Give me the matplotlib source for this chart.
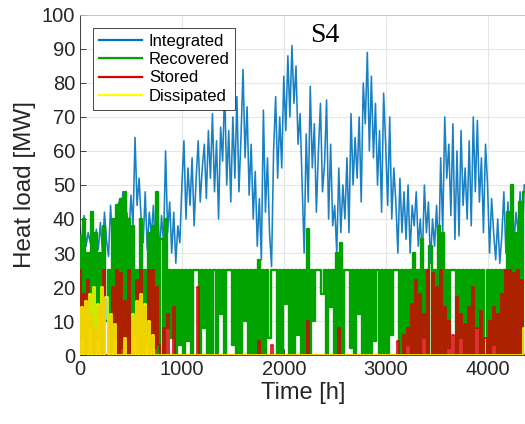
import numpy as np
import matplotlib
matplotlib.use("Agg")
from matplotlib import pyplot as plt

plt.rcParams['font.family'] = ['Liberation Sans', 'DejaVu Sans']

# hourly results sampled every 20 h (first half year)
hours = np.arange(0, 4380, 20)

integrated = [
    38, 30, 41, 32, 36, 33, 40, 29, 37, 31,
    39, 30, 42, 34, 29, 44, 33, 40, 30, 45,
    36, 48, 33, 42, 35, 47, 38, 64, 44, 52,
    40, 33, 48, 31, 42, 35, 44, 30, 48, 29,
    41, 33, 60, 36, 45, 30, 42, 27, 38, 33,
    50, 63, 40, 55, 44, 58, 38, 52, 63, 45,
    55, 62, 46, 66, 52, 71, 48, 63, 40, 67,
    57, 79, 50, 66, 45, 70, 52, 76, 48, 64,
    84, 58, 73, 47, 62, 40, 54, 32, 46, 28,
    72, 42, 58, 36, 26, 60, 76, 52, 70, 55,
    82, 66, 88, 70, 91, 74, 85, 62, 71, 50,
    30, 65, 45, 79, 55, 68, 42, 60, 74, 48,
    56, 75, 40, 62, 38, 44, 30, 55, 36, 50,
    40, 58, 36, 71, 50, 64, 52, 70, 45, 80,
    68, 89, 60, 82, 58, 74, 50, 66, 42, 77,
    62, 44, 70, 40, 55, 45, 30, 52, 36, 48,
    34, 50, 30, 44, 38, 48, 32, 40, 28, 50,
    36, 45, 27, 40, 32, 44, 28, 58, 36, 70,
    52, 62, 41, 68, 34, 60, 35, 66, 44, 55,
    40, 63, 38, 70, 48, 69, 45, 58, 36, 62,
    50, 30, 46, 36, 28, 40, 27, 35, 48, 30,
    45, 30, 50, 33, 42, 36, 48, 32, 50,
]

recovered = [
    35, 5, 40, 0, 30, 8, 42, 0, 36, 4,
    30, 0, 38, 10, 25, 0, 40, 5, 44, 0,
    46, 2, 48, 0, 40, 0, 38, 6, 25, 0,
    40, 0, 25, 3, 36, 0, 38, 2, 48, 0,
    34, 0, 40, 8, 25, 5, 25, 0, 25, 3,
    25, 0, 25, 4, 25, 0, 25, 25, 25, 0,
    25, 8, 25, 0, 25, 0, 25, 0, 25, 12,
    25, 0, 25, 25, 25, 3, 25, 0, 25, 0,
    25, 10, 25, 0, 25, 0, 25, 0, 28, 0,
    25, 0, 25, 5, 25, 25, 25, 0, 25, 0,
    25, 15, 25, 0, 25, 0, 25, 6, 25, 0,
    25, 0, 37, 0, 25, 10, 25, 25, 25, 18,
    25, 0, 25, 14, 25, 0, 30, 0, 33, 0,
    25, 25, 25, 2, 25, 0, 25, 12, 25, 0,
    25, 0, 25, 0, 25, 4, 25, 0, 25, 0,
    25, 0, 25, 6, 25, 25, 25, 0, 25, 0,
    25, 3, 25, 0, 30, 0, 25, 0, 34, 5,
    25, 0, 32, 0, 25, 0, 38, 0, 36, 0,
    25, 2, 25, 25, 25, 0, 25, 5, 25, 0,
    25, 0, 25, 0, 25, 8, 25, 0, 25, 0,
    25, 0, 25, 3, 25, 0, 25, 0, 25, 0,
    42, 0, 50, 0, 36, 0, 45, 0, 48,
]

stored = np.zeros(len(hours))
stored[0:50] = [
    25, 0, 18, 0, 22, 0, 12, 0, 8, 0,
    15, 0, 25, 0, 10, 0, 20, 0, 25, 0,
    24, 0, 16, 0, 25, 0, 10, 0, 22, 0,
    25, 0, 14, 0, 25, 0, 25, 0, 20, 3,
    0, 8, 0, 12, 0, 0, 14, 0, 0, 0,
]
stored[[58, 88, 94, 112, 127]] = [20, 4, 3, 10, 8]
stored[155:] = [
    0, 4, 0, 0, 6, 0, 8, 0, 15, 0,
    22, 0, 18, 0, 12, 0, 25, 0, 24, 0,
    20, 0, 25, 0, 14, 0, 10, 0, 6, 0,
    17, 0, 12, 0, 9, 0, 14, 0, 20, 0,
    8, 0, 13, 0, 5, 0, 10, 0, 14, 0,
    12, 0, 18, 0, 25, 0, 25, 0, 24, 0,
    25, 0, 22, 0,
]

dissipated = np.zeros(len(hours))
dissipated[0:40] = [
    0, 14, 0, 16, 0, 18, 0, 20, 0, 15,
    0, 20, 0, 17, 0, 12, 0, 9, 0, 0,
    0, 0, 5, 0, 0, 0, 12, 0, 16, 0,
    18, 0, 15, 0, 10, 0, 6, 0, 0, 0,
]
dissipated[217:] = [0, 8]

fig = plt.figure(figsize=(5.25, 4.24), dpi=100)
ax = fig.add_axes([0.1524, 0.1627, 0.85, 0.802])

# dense hourly data: integrated as spikes, the capped series as vertical steps
ax.plot(hours, integrated, color='#0072BD', lw=1.15, alpha=0.9,
        label='Integrated', zorder=2)
ax.plot(hours, recovered, color='#00A300', lw=1.7, drawstyle='steps-mid',
        label='Recovered', zorder=3)
ax.plot(hours, stored, color='#D80000', lw=1.15, drawstyle='steps-mid',
        label='Stored', zorder=4)
ax.plot(hours, dissipated, color='#FFFF00', lw=1.15, drawstyle='steps-mid',
        label='Dissipated', zorder=5)

ax.set_xlim(0, 4380)
ax.set_ylim(0, 100)
ax.set_xticks([0, 1000, 2000, 3000, 4000])
ax.set_yticks(np.arange(0, 101, 10))
ax.grid(True, color='#e6e6e6', lw=0.8)
ax.set_axisbelow(True)
ax.tick_params(direction='in', labelsize=14.5, colors='#262626', length=4, width=0.6)
for s in ax.spines.values():
    s.set_color('#262626')
    s.set_linewidth(0.6)
ax.spines['top'].set_color('#bdbdbd')

ax.set_xlabel('Time [h]', fontsize=17, color='#262626', labelpad=2)
ax.set_ylabel('Heat load [MW]', fontsize=17.5, color='#262626', labelpad=4)

ax.text(2400, 94, 'S4', ha='center', va='center', fontsize=20,
        family='Liberation Serif', color='black')

leg = ax.legend(loc='upper left', bbox_to_anchor=(0.029, 0.962), borderaxespad=0,
                fontsize=12, handlelength=2.6, labelspacing=0.2, fancybox=False,
                framealpha=1, edgecolor='#262626', borderpad=0.35, handletextpad=0.4)
leg.get_frame().set_linewidth(0.6)
for line in leg.get_lines():
    line.set_linewidth(1.6)
    line.set_alpha(1)

fig.savefig('out.png', dpi=100)
